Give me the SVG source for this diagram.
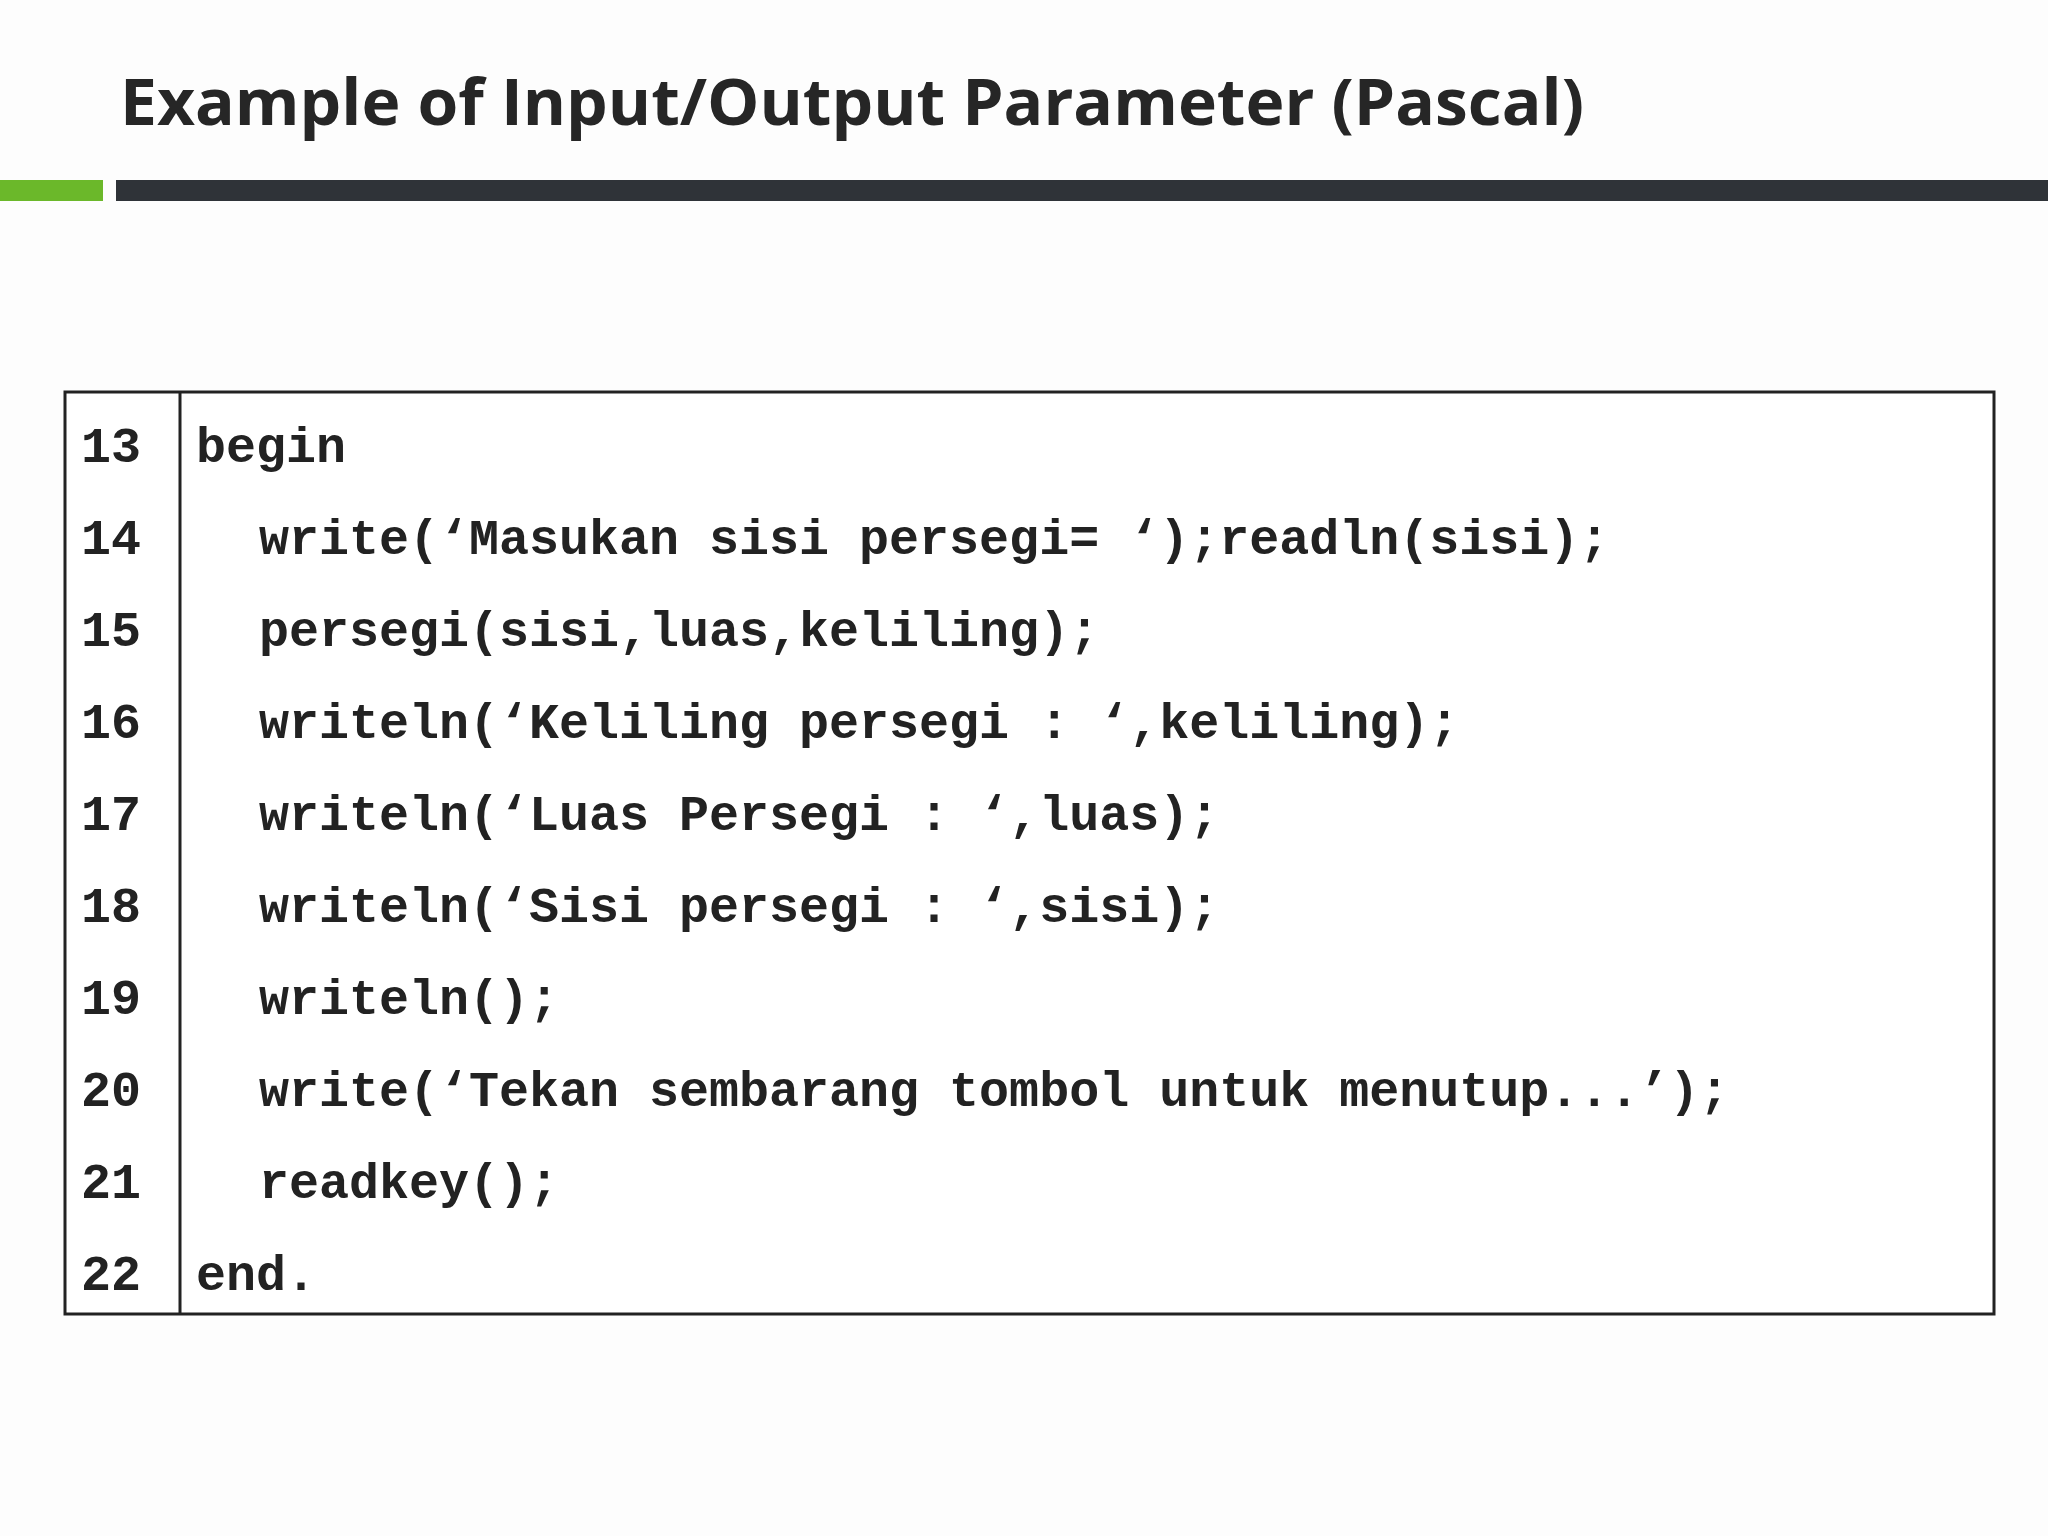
<svg xmlns="http://www.w3.org/2000/svg" width="2048" height="1536" viewBox="0 0 2048 1536">
<style>
.c{font-family:"Liberation Mono","Courier New",monospace;font-weight:bold;font-size:50px;fill:#222;white-space:pre}
</style>
<rect width="2048" height="1536" fill="#fdfdfd"/>
<g id="title"><text x="120" y="125" font-family="'Open Sans','Noto Sans',sans-serif" font-weight="bold" font-size="64" fill="#262626" textLength="1464" lengthAdjust="spacingAndGlyphs">Example of Input/Output Parameter (Pascal)</text></g>
<g id="bars"><rect x="0" y="180" width="103" height="21" fill="#6bb82a"/><rect x="116" y="180" width="1932" height="21" fill="#2f3338"/></g>
<g id="table">
<rect x="65" y="392" width="1929" height="922" fill="#fff" stroke="#222" stroke-width="3"/>
<line x1="180" y1="392" x2="180" y2="1314" stroke="#222" stroke-width="3"/>
</g>
<g id="code" class="c" xml:space="preserve">
<text class="c" x="81" y="462">13</text><text class="c" x="196" y="462">begin</text>
<text class="c" x="81" y="554">14</text><text class="c" x="259" y="554">write(‘Masukan sisi persegi= ‘);readln(sisi);</text>
<text class="c" x="81" y="646">15</text><text class="c" x="259" y="646">persegi(sisi,luas,keliling);</text>
<text class="c" x="81" y="738">16</text><text class="c" x="259" y="738">writeln(‘Keliling persegi : ‘,keliling);</text>
<text class="c" x="81" y="830">17</text><text class="c" x="259" y="830">writeln(‘Luas Persegi : ‘,luas);</text>
<text class="c" x="81" y="922">18</text><text class="c" x="259" y="922">writeln(‘Sisi persegi : ‘,sisi);</text>
<text class="c" x="81" y="1014">19</text><text class="c" x="259" y="1014">writeln();</text>
<text class="c" x="81" y="1106">20</text><text class="c" x="259" y="1106">write(‘Tekan sembarang tombol untuk menutup...’);</text>
<text class="c" x="81" y="1198">21</text><text class="c" x="259" y="1198">readkey();</text>
<text class="c" x="81" y="1290">22</text><text class="c" x="196" y="1290">end.</text>
</g>
</svg>
